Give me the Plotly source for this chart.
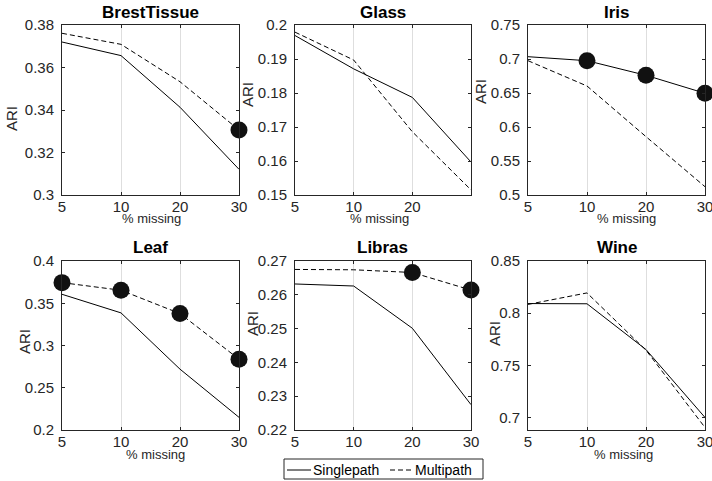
import plotly.graph_objects as go

# ---- data ----
pct_labels = ["5", "10", "20", "30"]
pct_pos = [0, 1, 2, 3]

brest_single = [0.3720, 0.3656, 0.3413, 0.3121]
brest_multi = [0.3761, 0.3709, 0.3533, 0.3306]
glass_single = [0.1969, 0.1871, 0.1787, 0.1597]
glass_multi = [0.1979, 0.1897, 0.1686, 0.1515]
iris_single = [0.7034, 0.6975, 0.6760, 0.6496]
iris_multi = [0.6975, 0.6603, 0.5858, 0.5122]
leaf_single = [0.3606, 0.3386, 0.2720, 0.2150]
leaf_multi = [0.3744, 0.3654, 0.3378, 0.2838]
libras_single = [0.2632, 0.2626, 0.2501, 0.2275]
libras_multi = [0.2675, 0.2674, 0.2666, 0.2614]
wine_single = [0.8092, 0.8090, 0.7651, 0.7000]
wine_multi = [0.8084, 0.8194, 0.7645, 0.6904]

# highlighted (large dot) points: (series, indices)
brest_marks = ("multi", [3])
glass_marks = ("multi", [])
iris_marks = ("single", [1, 2, 3])
leaf_marks = ("multi", [0, 1, 2, 3])
libras_marks = ("multi", [2, 3])
wine_marks = ("multi", [])

brest_yticks = [0.30, 0.32, 0.34, 0.36, 0.38]
glass_yticks = [0.15, 0.16, 0.17, 0.18, 0.19, 0.20]
iris_yticks = [0.50, 0.55, 0.60, 0.65, 0.70, 0.75]
leaf_yticks = [0.20, 0.25, 0.30, 0.35, 0.40]
libras_yticks = [0.22, 0.23, 0.24, 0.25, 0.26, 0.27]
wine_yticks = [0.70, 0.75, 0.80, 0.85]

brest_yrange = [0.30, 0.38]
glass_yrange = [0.15, 0.20]
iris_yrange = [0.50, 0.75]
leaf_yrange = [0.20, 0.40]
libras_yrange = [0.22, 0.27]
wine_yrange = [0.688, 0.85]

glass_xticks = [0, 1, 2]

series_names = ["Singlepath", "Multipath"]

panels = [
    dict(name="BrestTissue", single=brest_single, multi=brest_multi, marks=brest_marks,
         yt=brest_yticks, yr=brest_yrange, xt=pct_pos),
    dict(name="Glass", single=glass_single, multi=glass_multi, marks=glass_marks,
         yt=glass_yticks, yr=glass_yrange, xt=glass_xticks),
    dict(name="Iris", single=iris_single, multi=iris_multi, marks=iris_marks,
         yt=iris_yticks, yr=iris_yrange, xt=pct_pos),
    dict(name="Leaf", single=leaf_single, multi=leaf_multi, marks=leaf_marks,
         yt=leaf_yticks, yr=leaf_yrange, xt=pct_pos),
    dict(name="Libras", single=libras_single, multi=libras_multi, marks=libras_marks,
         yt=libras_yticks, yr=libras_yrange, xt=pct_pos),
    dict(name="Wine", single=wine_single, multi=wine_multi, marks=wine_marks,
         yt=wine_yticks, yr=wine_yrange, xt=pct_pos),
]

# ---- layout geometry (pixels) ----
W, H = 712, 481
col_px = [(62, 239), (295, 471), (528, 705)]
row_px = [(25, 195), (261, 430)]
title_y_px = [13, 247]
xlabel_y_px = [219, 454]
xlabel_x_px = [151, 379, 626, 155, None, 623]
ylabel_px = [(12, 119), (248, 95), (480, 92), (25, 342), (252, 323), (495, 334)]

FONT = "Liberation Sans, Arial, Helvetica, sans-serif"
AX = "#262626"
DASH = "5px,3px"


def px(x):
    return x / W


def py(y):
    return (H - y) / H


fig = go.Figure()
annotations = []
shapes = []

for i, p in enumerate(panels):
    r, c = divmod(i, 3)
    k = "" if i == 0 else str(i + 1)
    xa, ya = "x" + k, "y" + k
    x0, x1 = col_px[c]
    ytop, ybot = row_px[r]

    fig.add_trace(go.Scatter(x=pct_pos, y=p["single"], mode="lines", name=series_names[0],
                             line=dict(color="black", width=1), xaxis=xa, yaxis=ya,
                             showlegend=False, cliponaxis=False))
    fig.add_trace(go.Scatter(x=pct_pos, y=p["multi"], mode="lines", name=series_names[1],
                             line=dict(color="black", width=1, dash=DASH), xaxis=xa, yaxis=ya,
                             showlegend=False, cliponaxis=False))
    series, idx = p["marks"]
    src = p["single"] if series == "single" else p["multi"]
    if idx:
        fig.add_trace(go.Scatter(x=[pct_pos[j] for j in idx], y=[src[j] for j in idx],
                                 mode="markers", showlegend=False, xaxis=xa, yaxis=ya,
                                 marker=dict(color="#111111", size=17, line=dict(width=0)),
                                 cliponaxis=False))

    fig.layout["xaxis" + k] = dict(
        domain=[px(x0), px(x1)], anchor=ya, range=[0, 3], tickvals=p["xt"],
        ticktext=[pct_labels[j] for j in p["xt"]], automargin=False,
        showgrid=True, gridcolor="#dedede", gridwidth=1, zeroline=False,
        showline=True, linecolor=AX, linewidth=1, mirror="ticks",
        ticks="inside", ticklen=3, tickcolor=AX, ticklabelstandoff=-2,
        ticklabeloverflow="allow",
        tickfont=dict(family=FONT, size=15, color=AX),
    )
    fig.layout["yaxis" + k] = dict(
        domain=[py(ybot), py(ytop)], anchor=xa, range=p["yr"], tickvals=p["yt"],
        ticktext=[f"{v:g}" for v in p["yt"]], automargin=False,
        showgrid=False, zeroline=False,
        showline=True, linecolor=AX, linewidth=1, mirror="ticks",
        ticks="inside", ticklen=3, tickcolor=AX, ticklabelstandoff=4,
        ticklabeloverflow="allow",
        tickfont=dict(family=FONT, size=15, color=AX),
    )

    annotations.append(dict(text="<b>" + p["name"] + "</b>", x=px((x0 + x1) / 2),
                            y=py(title_y_px[r]), xref="paper", yref="paper",
                            showarrow=False, xanchor="center", yanchor="middle",
                            font=dict(family=FONT, size=17, color="black")))
    if xlabel_x_px[i] is not None:
        annotations.append(dict(text="% missing", x=px(xlabel_x_px[i]),
                                y=py(xlabel_y_px[r]), xref="paper", yref="paper",
                                showarrow=False, xanchor="center", yanchor="middle",
                                font=dict(family=FONT, size=13, color=AX)))
    lx, ly = ylabel_px[i]
    annotations.append(dict(text="ARI", x=px(lx), y=py(ly), xref="paper", yref="paper",
                            showarrow=False, xanchor="center", yanchor="middle", textangle=-90,
                            font=dict(family=FONT, size=15, color=AX)))

# ---- legend box (drawn manually) ----
lg_x0, lg_x1, lg_y0, lg_y1 = 284, 483, 459, 479
lg_yc = 470
shapes.append(dict(type="rect", xref="paper", yref="paper", x0=px(lg_x0), x1=px(lg_x1),
                   y0=py(lg_y1), y1=py(lg_y0), line=dict(color=AX, width=1),
                   fillcolor="white", layer="above"))
shapes.append(dict(type="line", xref="paper", yref="paper", x0=px(287), x1=px(311),
                   y0=py(lg_yc), y1=py(lg_yc), line=dict(color="black", width=1), layer="above"))
shapes.append(dict(type="line", xref="paper", yref="paper", x0=px(390), x1=px(413),
                   y0=py(lg_yc), y1=py(lg_yc), line=dict(color="black", width=1, dash=DASH),
                   layer="above"))
annotations.append(dict(text=series_names[0], x=px(311), y=py(lg_yc), xref="paper", yref="paper",
                        showarrow=False, xanchor="left", yanchor="middle",
                        font=dict(family=FONT, size=14, color="black")))
annotations.append(dict(text=series_names[1], x=px(413), y=py(lg_yc), xref="paper", yref="paper",
                        showarrow=False, xanchor="left", yanchor="middle",
                        font=dict(family=FONT, size=14, color="black")))

fig.update_layout(
    width=W, height=H, autosize=False,
    margin=dict(l=0, r=0, t=0, b=0, autoexpand=False),
    plot_bgcolor="white", paper_bgcolor="white",
    annotations=annotations, shapes=shapes, showlegend=False,
)

fig.write_html("out.html", config={"displayModeBar": False},
               post_script="document.body.style.margin='0';")
